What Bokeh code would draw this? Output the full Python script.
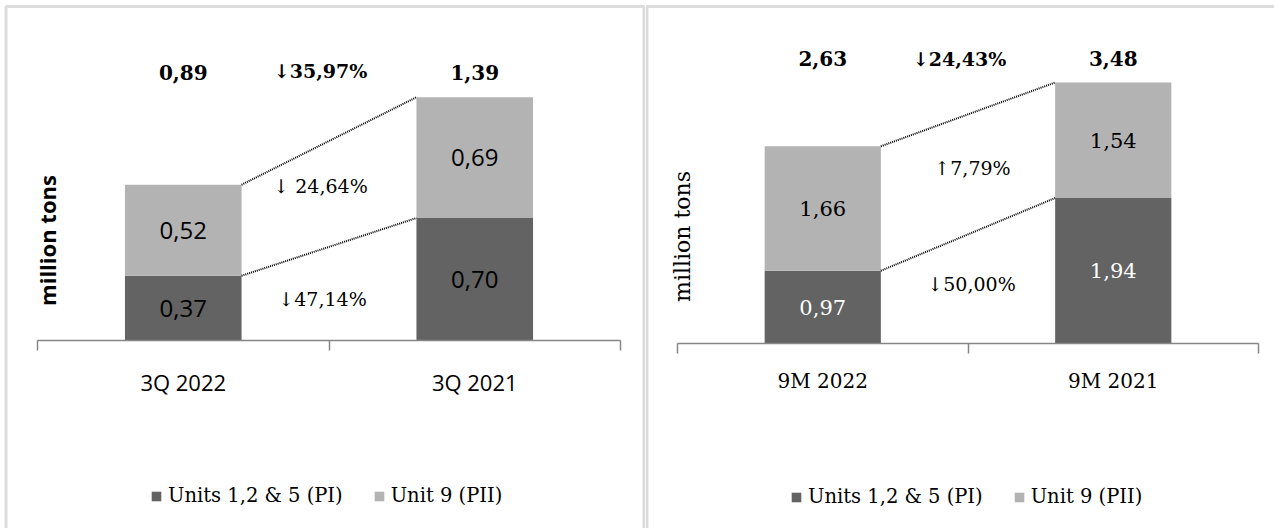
import math
from bokeh.plotting import figure
from bokeh.models import (Range1d, LinearAxis, FixedTicker, Legend, LegendItem,
                          Label, ColumnDataSource, BoxAnnotation)
from bokeh.layouts import row
from bokeh.embed import file_html
from bokeh.resources import INLINE
from bokeh.core.properties import value

# ---------------- data ----------------
series_names = ["Units 1,2 & 5 (PI)", "Unit 9 (PII)"]

q_categories = ["3Q 2022", "3Q 2021"]
q_units125 = [0.37, 0.70]
q_unit9 = [0.52, 0.69]
q_totals = [0.89, 1.39]
q_change_total = "↓35,97%"
q_change_unit9 = "↓ 24,64%"
q_change_units125 = "↓47,14%"

m_categories = ["9M 2022", "9M 2021"]
m_units125 = [0.97, 1.94]
m_unit9 = [1.66, 1.54]
m_totals = [2.63, 3.48]
m_change_total = "↓24,43%"
m_change_unit9 = "↑7,79%"
m_change_units125 = "↓50,00%"

DARK = "#636363"
LIGHT = "#b3b3b3"
BORDER = "#8a8a8a"
AXIS = "#868686"
H = 528
SERIF = "DejaVu Serif"
SANS = "Open Sans"


def fmt(v):
    return f"{v:.2f}".replace(".", ",")


def make_panel(width, categories, dark_vals, light_vals, totals,
               ch_total, ch_light, ch_dark, cfg):
    n = len(categories)
    ax_l, ax_r, base, ppu = cfg["axis_left"], cfg["axis_right"], cfg["baseline"], cfg["ppu"]
    sx = (ax_r - ax_l) / n
    p = figure(width=width, height=H, output_backend="svg", toolbar_location=None,
               x_range=Range1d(-ax_l / sx, (width - ax_l) / sx),
               y_range=Range1d(-(H - base) / ppu, base / ppu),
               x_axis_location=None, y_axis_location=None, min_border=0,
               outline_line_color=None, background_fill_color="white",
               border_fill_color="white")
    for g in p.grid:
        g.visible = False

    def dx(px):
        return (px - ax_l) / sx

    def dy(py):
        return (base - py) / ppu

    xs = [i + 0.5 for i in range(n)]
    bw = 0.4
    src = ColumnDataSource(dict(x=xs, dark=dark_vals, light=light_vals))
    rs = p.vbar_stack(["dark", "light"], x="x", width=bw, source=src,
                      color=[DARK, LIGHT], line_color=None)

    # connectors (dotted)
    tops = [d + l for d, l in zip(dark_vals, light_vals)]
    p.segment(x0=[xs[0] + bw / 2] * 2, y0=[tops[0], dark_vals[0]],
              x1=[xs[1] - bw / 2] * 2, y1=[tops[1], dark_vals[1]],
              line_color="black", line_dash="1 1", line_width=2)

    # axis with boundary ticks
    ax = LinearAxis(fixed_location=0,
                    ticker=FixedTicker(ticks=xs, minor_ticks=list(range(n + 1))),
                    major_label_overrides={x: c for x, c in zip(xs, categories)},
                    major_tick_out=0, major_tick_in=0,
                    minor_tick_out=10, minor_tick_in=0,
                    axis_line_color=AXIS, axis_line_width=1.5,
                    minor_tick_line_color=AXIS, minor_tick_line_width=1.5,
                    bounds=(0, n),
                    major_label_standoff=cfg["standoff"],
                    major_label_text_font=cfg["cat_font"],
                    major_label_text_font_size=cfg["cat_size"],
                    major_label_text_color="black")
    p.add_layout(ax, "below")

    # segment value labels
    seg_src = ColumnDataSource(dict(
        x=xs + xs,
        y=[d / 2 for d in dark_vals] + [d + l / 2 for d, l in zip(dark_vals, light_vals)],
        t=[fmt(v) for v in dark_vals] + [fmt(v) for v in light_vals],
        c=[cfg["dark_lbl_color"]] * n + ["black"] * n))
    p.text(x="x", y="y", text="t", source=seg_src, text_color="c",
           text_font=value(cfg["seg_font"]), text_font_size=cfg["seg_size"],
           text_align="center", text_baseline="middle")

    # totals
    p.text(x=xs, y=[dy(cfg["top_y"])] * n, text=[fmt(v) for v in totals],
           text_font=value(SERIF), text_font_style="bold", text_font_size="20px",
           text_align="center", text_baseline="middle", text_color="black")

    # change labels: total (bold) and per-series (normal)
    p.text(x=[dx(cfg["pct_x"][0])], y=[dy(cfg["pct_y"][0])], text=[ch_total],
           text_font=value(SERIF), text_font_style="bold", text_font_size="19px",
           text_align="center", text_baseline="middle", text_color="black")
    p.text(x=[dx(cfg["pct_x"][1]), dx(cfg["pct_x"][2])],
           y=[dy(cfg["pct_y"][1]), dy(cfg["pct_y"][2])],
           text=[ch_light, ch_dark],
           text_font=value(SERIF), text_font_size="19px",
           text_align="center", text_baseline="middle", text_color="black")

    # y axis title
    p.add_layout(Label(x=cfg["ylab_x"], y=H - cfg["ylab_y"], x_units="screen", y_units="screen",
                       text="million tons", angle=90, angle_units="deg",
                       text_font=cfg["ylab_font"], text_font_style=cfg["ylab_style"],
                       text_font_size=cfg["ylab_size"], text_align="center",
                       text_baseline="middle", text_color="black"))

    # legend
    leg = Legend(items=[LegendItem(label=series_names[0], renderers=[rs[0]]),
                        LegendItem(label=series_names[1], renderers=[rs[1]])],
                 orientation="horizontal", location=(cfg["leg_x"], cfg["leg_y"]),
                 border_line_color=None, background_fill_alpha=0,
                 glyph_width=12, glyph_height=12, label_standoff=6, spacing=30,
                 padding=0, margin=0,
                 label_text_font=SERIF, label_text_font_size="19.5px",
                 label_text_color="black")
    p.add_layout(leg, "center")

    # panel border
    b = cfg["border"]
    p.add_layout(BoxAnnotation(left=dx(b[0]), right=dx(b[1]), top=dy(b[2]), bottom=dy(H + 20),
                               fill_alpha=0, line_color=BORDER, line_width=3))
    return p


left_cfg = dict(axis_left=37, axis_right=620, baseline=340, ppu=175, standoff=16,
                cat_font=SANS, cat_size="22px", seg_font=SANS, seg_size="24px",
                dark_lbl_color="black", top_y=72,
                pct_x=[320, 320, 322], pct_y=[70, 185, 298],
                ylab_x=46, ylab_y=240, ylab_font=SANS, ylab_style="bold", ylab_size="22px",
                leg_x=150, leg_y=21, border=[5.5, 643.5, 6])

right_cfg = dict(axis_left=32, axis_right=613, baseline=343, ppu=75, standoff=15,
                 cat_font=SERIF, cat_size="20px", seg_font=SERIF, seg_size="21px",
                 dark_lbl_color="white", top_y=58,
                 pct_x=[314, 327, 326], pct_y=[58, 167, 283],
                 ylab_x=37, ylab_y=236, ylab_font=SERIF, ylab_style="normal", ylab_size="22px",
                 leg_x=145, leg_y=20, border=[1.5, 700, 6])

p1 = make_panel(645, q_categories, q_units125, q_unit9, q_totals,
                q_change_total, q_change_unit9, q_change_units125, left_cfg)
p2 = make_panel(629, m_categories, m_units125, m_unit9, m_totals,
                m_change_total, m_change_unit9, m_change_units125, right_cfg)

layout = row(p1, p2, spacing=0)
open("out.html", "w").write(file_html(layout, INLINE))
